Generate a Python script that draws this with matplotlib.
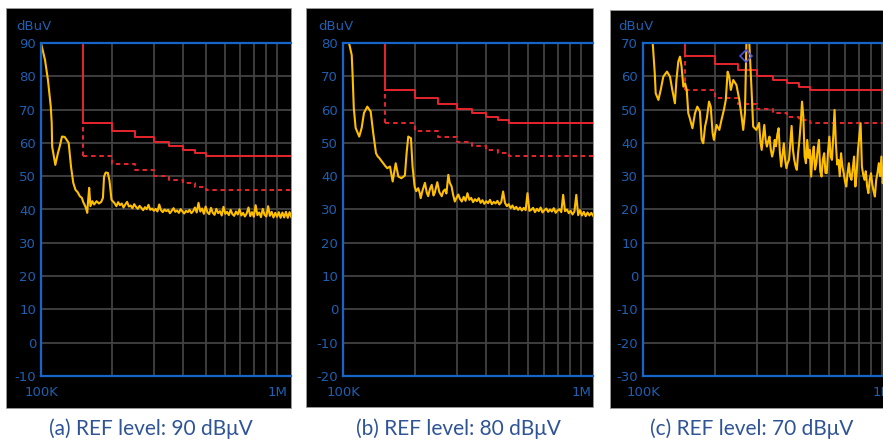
import numpy as np
import matplotlib.pyplot as plt
from matplotlib.patches import Rectangle
from matplotlib.ticker import NullFormatter

plt.rcParams['axes.unicode_minus'] = False

# limit lines (CISPR class B), kHz / dBuV, drawn as steps
limit_khz = [150, 200, 250, 300, 350, 400, 450, 500, 2000]
limit_qp = [66, 63.6, 61.8, 60.2, 59.0, 57.9, 56.9, 56, 56]
limit_avg = [56, 53.6, 51.8, 50.2, 49.0, 47.9, 46.9, 46, 46]

# (a) REF 90
a_head_khz = [100, 104, 107, 110, 111, 111.5, 115, 118, 120, 122.7, 126, 131, 134, 137, 140,
              143, 146, 149, 151, 153, 155, 157, 158.5, 160, 162, 165, 168, 172, 176, 180,
              183, 185, 188, 192, 195, 199]
a_head_db = [90, 84.9, 78.9, 70.9, 66, 58.9, 53.4, 57, 58.9, 61.9, 61.8, 60, 52.9, 48, 45.9,
             45.2, 44.0, 43.5, 42.2, 41.4, 40.5, 39.0, 43.0, 46.5, 41.0, 42.5, 41.5, 42.5, 41.8, 42.3,
             43.5, 49.9, 51.1, 51.0, 48.7, 42.9]
a_tail_db = [41.9, 41.0, 42.2, 41.3, 41.8, 40.6, 41.5, 42.3, 40.9, 41.2, 40.4, 41.6, 40.8, 40.2,
             41.1, 40.5, 39.8, 40.7, 40.1, 41.4, 39.9, 40.3,
             39.6, 40.2, 39.4, 41.5, 39.8, 39.2, 40.0, 39.5, 39.9, 38.9, 39.6, 40.4, 39.3, 39.7,
             39.0, 40.1, 39.4, 38.8, 39.6, 39.2, 39.9, 38.9, 39.5, 40.6, 39.1, 42.0, 39.4, 40.3,
             38.7, 40.9,
             39.2, 38.6, 40.5, 39.0, 38.4, 40.2, 38.9, 39.5, 38.2, 40.8, 38.7, 39.3, 38.3, 39.9,
             38.6, 38.1, 39.4, 38.5, 40.1, 38.2, 39.0, 37.9, 38.8, 40.6, 38.0, 39.2, 37.8, 41.3,
             38.3, 39.1, 37.7, 40.2, 38.4, 37.9, 41.0, 38.1, 39.3, 37.6, 39.0, 37.8, 39.2, 37.5,
             39.1, 37.6, 39.3, 37.5, 39.2, 37.7]

# (b) REF 80
b_head_khz = [100, 106, 108.8, 109.8, 111, 113, 117, 119.8, 122.5, 126.5, 130.7, 134, 137.6,
              140, 142, 145, 147.6, 150, 153.5, 157.6, 161.7, 166.5, 170.8, 176, 182, 185, 188,
              193, 196, 200, 203, 207, 210, 212, 216, 221, 225, 228, 232, 236, 240, 243, 246,
              249, 254, 260, 264, 268, 272, 277, 281, 286, 290, 295, 300, 305]
b_head_db = [88, 80, 76.4, 69.9, 60.5, 54.5, 51.9, 54.5, 59, 60.9, 59.4, 52.9, 46.9,
             45.9, 45.5, 44.6, 43.9, 43.2, 42.4, 42.9, 38.4, 43.9, 39.9, 39.4, 40.2, 46.9, 51.9,
             51.4, 42.9, 36.9, 35.5, 36.4, 35.0, 33.4, 35.8, 38.0, 35.0, 34.0, 36.2, 37.4, 34.2, 35.0, 36.6,
             38.2, 35.2, 34.0, 35.5, 36.0, 34.8, 40.4, 38.0, 36.9, 34.5, 32.4, 33.5, 34.5]
b_tail_db = [33.2, 32.4, 33.8, 32.6, 34.9, 32.9, 33.5, 32.2, 33.1, 32.5, 33.4,
             32.0, 32.8, 31.7, 32.5, 31.9, 32.9, 31.6, 32.3, 31.8, 32.6, 31.5, 32.2,
             35.4, 32.0,
             31.0, 31.6, 30.4, 31.2, 30.1, 30.8, 29.9, 30.6, 29.7, 30.5,
             29.8, 34.9, 29.6,
             29.9, 30.5, 29.2, 30.2, 29.5, 30.6, 29.1, 29.8, 30.3, 29.3, 30.0, 29.4, 30.4, 29.0,
             29.7, 30.1, 29.2, 34.4, 29.5, 30.0,
             28.9, 29.6, 28.5, 29.4, 34.4, 28.3, 29.8, 28.2, 29.3, 28.0, 29.1, 28.2, 29.0, 28.1]

# (c) REF 70
c_head_khz = [109.8, 112, 113, 116, 118.6, 121.6, 126, 129.7, 132.6, 136, 138, 140.5, 142.8, 145,
              147.5, 150, 152.4, 154.7, 157, 161, 165, 168.7, 173, 176, 178.7, 181.8, 185, 188.9,
              192, 195.6, 198, 203, 208.6, 213, 218, 222, 226, 229.6, 233, 238.6, 246, 253,
              258.6, 262.6, 267, 271, 278, 284.6, 289, 298]
c_head_db = [70, 60.9, 54.9, 52.9, 55.9, 59.9, 61.4, 59.9, 55.9, 51.9, 58.9, 64.4, 65.9, 62.9,
             56.9, 57.9, 55.9, 48.9, 47.4, 44.4, 48.9, 50.9, 49.4, 40.9, 39.9, 44.9, 47.4, 52.4,
             50.9, 42.9, 40.9, 45.4, 43.9, 46.9, 49.9, 52.9, 61.4, 59.9, 55.9, 58.9, 57.4, 52.9,
             47.9, 43.9, 48.9, 71, 71, 55.9, 44.9, 43.9]
c_tail_db = [46.0, 40.5, 37.9, 42.0, 45.4, 41.0, 38.9, 40.5, 41.9, 38.0, 35.9, 37.5, 40.9, 39.0,
             42.5, 44.4, 37.0, 32.9, 36.5, 39.9, 35.0, 32.4, 34.0, 34.9, 40.0, 45.1, 38.0, 35.0,
             33.0, 31.9, 37.0, 40.9, 46.0, 52.4, 47.9, 36.0, 33.9, 40.9, 35.5, 37.9, 29.9, 36.0,
             38.9, 32.0, 33.9, 38.0, 40.9, 31.5, 29.9, 35.0, 36.9, 31.0, 30.9, 37.5, 41.9, 36.0,
             34.9, 42.0, 49.9, 39.9, 33.5, 34.9, 30.0, 36.9, 33.0, 30.9, 28.5, 26.9, 31.0, 33.9,
             30.0, 28.9, 32.5, 35.9, 26.9, 31.0, 37.9, 42.0, 45.9, 32.9, 30.5, 28.9, 31.5, 27.0,
             24.9, 29.0, 30.9, 27.5, 25.5, 23.9, 28.9, 31.0, 33.9, 30.0, 35.9, 27.9, 31.5, 25.5,
             29.0, 33.0, 26.0, 24.5, 30.0, 27.0, 32.5, 25.0, 28.0, 31.0, 24.0, 29.5]
c_marker_khz = [271]
c_marker_db = [66]

grid_khz = [200, 300, 400, 500, 600, 700, 800, 900, 2000, 3000]

a_khz = a_head_khz + list(np.geomspace(205, 1150, len(a_tail_db)))
a_db = a_head_db + a_tail_db
b_khz = b_head_khz + list(np.geomspace(310, 1125, len(b_tail_db)))
b_db = b_head_db + b_tail_db
c_khz = c_head_khz + list(np.geomspace(306, 1200, len(c_tail_db)))
c_db = c_head_db + c_tail_db

W, H = 883, 448
fig = plt.figure(figsize=(W / 100, H / 100), dpi=100)

BLUE = '#1f5fb0'
SPINE = '#1566c8'
RED = '#e8262e'
YELLOW = '#ffbf00'
GRID = '#424242'


def frac(l, t, r, b):
    return [l / W, 1 - b / H, (r - l) / W, (b - t) / H]


panels = [
    dict(box=(6, 8, 291, 408), ax=(41, 43, 291, 376), ppd=236, top=90, khz=a_khz, db=a_db,
         unit_x=16, cap="(a) REF level: 90 dBμV", cap_x=151),
    dict(box=(306, 8, 593, 407), ax=(343, 43, 593, 376), ppd=238, top=80, khz=b_khz, db=b_db,
         unit_x=318, cap="(b) REF level: 80 dBμV", cap_x=458),
    dict(box=(610, 10, 900, 408), ax=(643, 43, 900, 376), ppd=239, top=70, khz=c_khz, db=c_db,
         unit_x=618, cap="(c) REF level: 70 dBμV", cap_x=752),
]

for i, p in enumerate(panels):
    l, t, r, b = p['box']
    fig.add_artist(Rectangle((l / W, 1 - b / H), (r - l) / W, (b - t) / H,
                             transform=fig.transFigure, facecolor='black',
                             edgecolor='#9a9a9a', lw=0.6, zorder=-5))
    al, at, ar, ab = p['ax']
    ax = fig.add_axes(frac(al, at, ar, ab))
    ax.set_facecolor('black')
    ax.set_xscale('log')
    top = p['top']
    ax.set_yticks(range(top - 100, top + 1, 10))
    ax.set_xticks([100, 1000])
    ax.set_xticklabels(['100K', '1M'])
    ax.set_xticks(grid_khz, minor=True)
    ax.xaxis.set_minor_formatter(NullFormatter())
    ax.grid(True, which='both', color=GRID, lw=1.3)
    ax.set_axisbelow(True)
    for s in ['left', 'top', 'bottom']:
        ax.spines[s].set_color(SPINE)
        ax.spines[s].set_linewidth(1.6)
    ax.spines['right'].set_visible(False)
    ax.tick_params(which='both', length=0, labelcolor=BLUE, labelsize=9.5)
    ax.tick_params(axis='y', pad=3.5)
    ax.tick_params(axis='x', pad=7)

    # limits
    ax.vlines(limit_khz[0], limit_qp[0], top + 5, color=RED, lw=1.4)
    ax.plot(limit_khz, limit_qp, drawstyle='steps-post', color=RED, lw=1.4)
    ax.vlines(limit_khz[0], limit_avg[0], limit_qp[0], color=RED, lw=1.4,
              linestyles=(0, (2.3, 1.9)))
    ax.plot(limit_khz, limit_avg, drawstyle='steps-post', color=RED, lw=1.4,
            linestyle=(0, (2.3, 1.9)))

    ax.plot(p['khz'], p['db'], color=YELLOW, lw=1.5)
    if i == 2:
        ax.plot(c_marker_khz, c_marker_db, marker='D', ms=6, mfc='none', mec='#5050d8',
                mew=1.2, ls='none')

    ax.set_xlim(100, 100 * 10 ** ((ar - al) / p['ppd']))
    ax.set_ylim(top - 100, top)

    fig.text(p['unit_x'] / W, 1 - 27 / H, 'dBuV', ha='left', va='center',
             fontsize=9.5, color=BLUE)
    fig.text(p['cap_x'] / W, 1 - 435 / H, p['cap'], ha='center', va='baseline',
             fontsize=15, color='#2f5496', family=['Lato', 'DejaVu Sans'])

fig.savefig('out.png', dpi=100, facecolor='white')
